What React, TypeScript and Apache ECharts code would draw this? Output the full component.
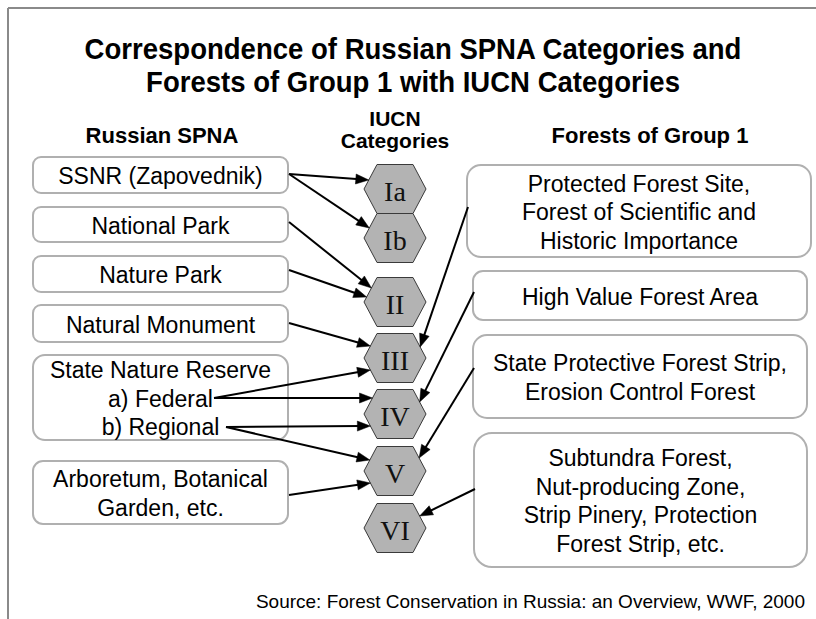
import React, { useEffect, useRef } from "react";
import * as echarts from "echarts";

// ---- Data (text content and relationships) ----
const titleLines = [
  "Correspondence of Russian SPNA Categories and",
  "Forests of Group 1 with IUCN Categories",
];
const columnHeaders = ["Russian SPNA", "IUCN\nCategories", "Forests of Group 1"];
const spnaCategories = [
  "SSNR (Zapovednik)",
  "National Park",
  "Nature Park",
  "Natural Monument",
  "State Nature Reserve\na) Federal\nb) Regional",
  "Arboretum, Botanical\nGarden, etc.",
];
const iucnCategories = ["Ia", "Ib", "II", "III", "IV", "V", "VI"];
const forestCategories = [
  "Protected Forest Site,\nForest of Scientific and\nHistoric Importance",
  "High Value Forest Area",
  "State Protective Forest Strip,\nErosion Control Forest",
  "Subtundra Forest,\nNut-producing Zone,\nStrip Pinery, Protection\nForest Strip, etc.",
];
// SPNA category (or sub-category) -> IUCN category
const spnaLinkFrom = ["SSNR (Zapovednik)", "SSNR (Zapovednik)", "National Park", "Nature Park", "Natural Monument", "a) Federal", "a) Federal", "b) Regional", "b) Regional", "Arboretum, Botanical"];
const spnaLinkTo = ["Ia", "Ib", "II", "II", "III", "III", "IV", "IV", "V", "V"];
// Forest category index -> IUCN category
const forestLinkFrom = [0, 1, 2, 3];
const forestLinkTo = ["III", "IV", "V", "VI"];
const sourceNote = "Source: Forest Conservation in Russia: an Overview, WWF, 2000";

// ---- Layout (positions / sizes, kept apart from data) ----
const W = 816;
const H = 619;
const spnaBoxes = [
  { x: 33, y: 157, w: 255, h: 36, r: 8 },
  { x: 33, y: 207, w: 255, h: 35, r: 8 },
  { x: 33, y: 256, w: 255, h: 36, r: 8 },
  { x: 33, y: 305, w: 255, h: 37, r: 8 },
  { x: 33, y: 355, w: 255, h: 85, r: 12 },
  { x: 33, y: 461, w: 255, h: 63, r: 10 },
];
const forestBoxes = [
  { x: 467, y: 165, w: 344, h: 92, r: 14 },
  { x: 473, y: 271, w: 334, h: 49, r: 10 },
  { x: 473, y: 335, w: 334, h: 83, r: 14 },
  { x: 474, y: 433, w: 333, h: 134, r: 18 },
];
const hexCx = 395;
const hexCy = [189, 238, 302, 358, 414, 471, 528];
const hexHalfW = 31;
const hexHalfTop = 18;
const hexHalfH = 24.5;
// start point of each SPNA arrow and vertical offset of its tip on the hexagon
const spnaArrowStart = [
  [289, 174], [289, 174], [289, 222], [289, 270], [289, 323],
  [214, 398], [214, 398], [226, 427], [226, 427], [289, 495],
];
const spnaArrowTipDy = [-9, -10, -14, -5, -12, 12, -16, 12, -11, 12];
const forestArrowStart = [[468, 207], [474, 292], [474, 368], [475, 489]];
const forestArrowTipDy = [-11, -12, -13, -12];

const SANS = "'Liberation Sans', Arial, Helvetica, sans-serif";
const SERIF = "'Liberation Serif', 'Times New Roman', serif";

function hexPoints(cy: number) {
  return [
    [hexCx - hexHalfW, cy],
    [hexCx - hexHalfTop, cy - hexHalfH],
    [hexCx + hexHalfTop, cy - hexHalfH],
    [hexCx + hexHalfW, cy],
    [hexCx + hexHalfTop, cy + hexHalfH],
    [hexCx - hexHalfTop, cy + hexHalfH],
  ];
}

function hexEdgeX(dy: number, side: number) {
  const inset = ((hexHalfW - hexHalfTop) * Math.abs(dy)) / hexHalfH;
  return hexCx + side * (hexHalfW - inset);
}

function arrow(x1: number, y1: number, x2: number, y2: number) {
  const L = 13;
  const Wd = 10;
  const dx = x2 - x1;
  const dy = y2 - y1;
  const len = Math.sqrt(dx * dx + dy * dy);
  const ux = dx / len;
  const uy = dy / len;
  const nx = -uy;
  const ny = ux;
  const bx = x2 - ux * L;
  const by = y2 - uy * L;
  return [
    {
      type: "line",
      shape: { x1, y1, x2: x2 - ux * L * 0.7, y2: y2 - uy * L * 0.7 },
      style: { stroke: "#000", lineWidth: 2 },
      z: 5,
    },
    {
      type: "polygon",
      shape: {
        points: [
          [x2, y2],
          [bx + (nx * Wd) / 2, by + (ny * Wd) / 2],
          [bx - (nx * Wd) / 2, by - (ny * Wd) / 2],
        ],
      },
      style: { fill: "#000", stroke: "#000", lineWidth: 0.5 },
      z: 6,
    },
  ];
}

function headerText(text: string, x: number, y: number, size: number) {
  return {
    type: "text",
    style: {
      text,
      x,
      y,
      align: "center",
      verticalAlign: "middle",
      font: `bold ${size}px ${SANS}`,
      fill: "#000",
    },
  };
}

function buildGraphic() {
  const els: any[] = [];
  // outer frame
  els.push({ type: "line", shape: { x1: 8, y1: 8, x2: W, y2: 8 }, style: { stroke: "#8a8a8a", lineWidth: 2 } });
  els.push({ type: "line", shape: { x1: 8, y1: 8, x2: 8, y2: H }, style: { stroke: "#8a8a8a", lineWidth: 2 } });

  // title
  els.push({
    type: "text",
    x: 413,
    y: 65,
    scaleX: 0.95,
    style: {
      text: titleLines.join("\n"),
      x: 0,
      y: 0,
      align: "center",
      verticalAlign: "middle",
      font: `bold 29px ${SANS}`,
      lineHeight: 33,
      fill: "#000",
    },
  });
  // column headers
  els.push(headerText(columnHeaders[0], 162, 135, 22));
  const iucnHead = columnHeaders[1].split("\n");
  els.push(headerText(iucnHead[0], 395, 118, 21));
  els.push(headerText(iucnHead[1], 395, 140.5, 21));
  els.push(headerText(columnHeaders[2], 650, 135, 22));

  // boxes
  const addBox = (b: any, text: string) => {
    els.push({
      type: "rect",
      shape: { x: b.x, y: b.y, width: b.w, height: b.h, r: b.r },
      style: { fill: "#fff", stroke: "#b0b0b0", lineWidth: 2 },
      z: 1,
    });
    els.push({
      type: "text",
      style: {
        text,
        x: b.x + b.w / 2,
        y: b.y + b.h / 2 + 1,
        align: "center",
        verticalAlign: "middle",
        font: `23px ${SANS}`,
        lineHeight: 28.5,
        fill: "#000",
      },
      z: 2,
    });
  };
  spnaCategories.forEach((t, i) => addBox(spnaBoxes[i], t));
  forestCategories.forEach((t, i) => addBox(forestBoxes[i], t));

  // hexagons
  iucnCategories.forEach((c, i) => {
    els.push({
      type: "polygon",
      shape: { points: hexPoints(hexCy[i]) },
      style: { fill: "#b3b3b3", stroke: "#3a3a3a", lineWidth: 1 },
      z: 3,
    });
    els.push({
      type: "text",
      style: {
        text: c,
        x: hexCx,
        y: hexCy[i] + 2,
        align: "center",
        verticalAlign: "middle",
        font: `28px ${SERIF}`,
        fill: "#111",
      },
      z: 4,
    });
  });

  // arrows from SPNA to IUCN
  spnaLinkFrom.forEach((_, i) => {
    const k = iucnCategories.indexOf(spnaLinkTo[i]);
    const dy = spnaArrowTipDy[i];
    const [sx, sy] = spnaArrowStart[i];
    els.push(...arrow(sx, sy, hexEdgeX(dy, -1), hexCy[k] + dy));
  });
  // arrows from Forests to IUCN
  forestLinkFrom.forEach((_, i) => {
    const k = iucnCategories.indexOf(forestLinkTo[i]);
    const dy = forestArrowTipDy[i];
    const [sx, sy] = forestArrowStart[i];
    els.push(...arrow(sx, sy, hexEdgeX(dy, 1), hexCy[k] + dy));
  });

  // source note
  els.push({
    type: "text",
    style: {
      text: sourceNote,
      x: 805,
      y: 601,
      align: "right",
      verticalAlign: "middle",
      font: `19px ${SANS}`,
      fill: "#000",
    },
  });
  return els;
}

export default function App() {
  const ref = useRef<HTMLDivElement>(null);
  useEffect(() => {
    if (!ref.current) return;
    const chart = echarts.init(ref.current, undefined, { renderer: "svg" });
    chart.setOption({
      animation: false,
      backgroundColor: "#fff",
      graphic: { elements: buildGraphic() },
    });
    return () => chart.dispose();
  }, []);
  return (
    <div
      ref={ref}
      style={{ position: "absolute", left: 0, top: 0, width: W, height: H }}
    />
  );
}
